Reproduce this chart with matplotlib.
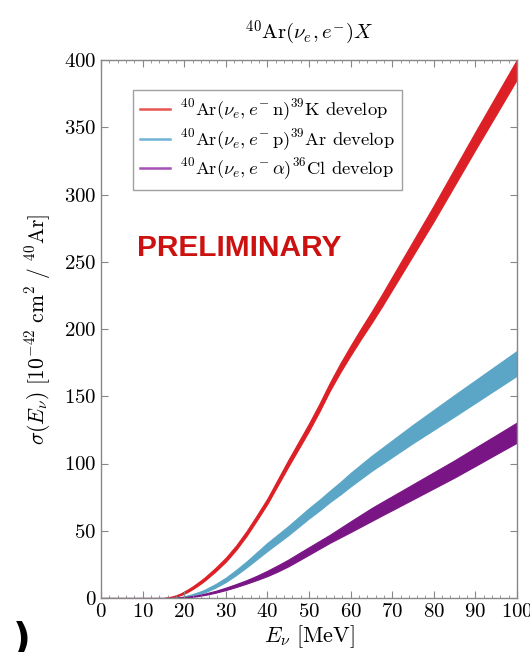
import matplotlib
matplotlib.use("Agg")
import matplotlib.pyplot as plt
from matplotlib.lines import Line2D
from matplotlib.ticker import MultipleLocator
import numpy as np

plt.rcParams['mathtext.fontset'] = 'cm'
plt.rcParams['font.family'] = 'serif'
plt.rcParams['font.serif'] = ['cmr10', 'DejaVu Serif']
plt.rcParams['axes.formatter.use_mathtext'] = True

# ---- data ----
energy = [0, 10, 15, 16, 17, 18, 19, 20, 21, 22, 23, 24, 25,
          27.5, 30, 32.5, 35, 37.5, 40, 42.5, 45, 47.5, 50, 52.5, 55, 57.5, 60, 62.5, 65, 67.5,
          70, 75, 80, 85, 90, 95, 100]

n_center = [0, 0, 0, 0.3, 0.8, 1.5, 2.6, 4, 5.7, 7.6, 9.7, 11.9, 14.3,
            21, 28.5, 37.5, 48, 59.8, 72, 86, 100, 113.5, 127, 141.5, 157, 171, 184, 196.5, 208.5, 221,
            234, 260, 286, 313, 340, 366.5, 393]
n_half = [0, 0, 0, 0.2, 0.3, 0.5, 0.6, 0.8, 0.9, 1.0, 1.1, 1.15, 1.2,
          1.35, 1.5, 1.65, 1.8, 1.9, 2.0, 2.25, 2.5, 2.65, 2.8, 2.9, 3.0, 3.3, 3.6, 3.9, 4.2, 4.5,
          4.8, 5.3, 5.8, 6.2, 6.6, 7.0, 7.3]

p_center = [0, 0, 0, 0, 0, 0.2, 0.5, 1, 1.6, 2.4, 3.3, 4.2, 5.3,
            9, 13.5, 19, 25, 31.5, 38, 44, 50, 56.5, 63, 69, 75.5, 81.5, 88, 94, 100, 105.5,
            111, 122, 132.5, 143, 153.5, 164, 174.5]
p_half = [0, 0, 0, 0, 0, 0.1, 0.2, 0.3, 0.4, 0.5, 0.65, 0.8, 1.0,
          1.3, 1.6, 1.9, 2.2, 2.6, 3.0, 3.2, 3.4, 3.6, 3.8, 4.0, 4.2, 4.6, 5.0, 5.3, 5.6, 5.9,
          6.2, 6.8, 7.4, 8.0, 8.4, 8.8, 9.2]

a_center = [0, 0, 0, 0, 0, 0.1, 0.3, 0.5, 0.8, 1.2, 1.6, 2.2, 2.8,
            4.6, 6.8, 9.3, 12, 15, 18.3, 22, 26, 30.5, 35, 39.5, 44, 48.5, 53, 57.5, 62, 66.3,
            70.5, 79, 87.5, 96, 105, 114, 123]
a_half = [0, 0, 0, 0, 0, 0.05, 0.1, 0.2, 0.25, 0.3, 0.35, 0.4, 0.5,
          0.7, 0.9, 1.1, 1.3, 1.6, 2.0, 2.3, 2.5, 2.7, 2.8, 2.9, 3.0, 3.5, 4.0, 4.4, 4.8, 5.0,
          5.2, 5.6, 6.0, 6.4, 6.8, 7.1, 7.5]

labels = [r'$^{40}\mathrm{Ar}(\nu_e, e^{-}\,\mathrm{n})^{39}\mathrm{K}$ develop',
          r'$^{40}\mathrm{Ar}(\nu_e, e^{-}\,\mathrm{p})^{39}\mathrm{Ar}$ develop',
          r'$^{40}\mathrm{Ar}(\nu_e, e^{-}\,\alpha)^{36}\mathrm{Cl}$ develop']
band_colors = ['#dc2026', '#5ba6c6', '#7a1585']
legend_colors = ['#e85550', '#6fb2d6', '#a550b5']

fig = plt.figure(figsize=(5.30, 6.52), dpi=100)
ax = fig.add_axes([101/530, 1 - 598/652, (517-101)/530, (598-60)/652])

E = np.array(energy)
for c, h, col in [(n_center, n_half, band_colors[0]),
                  (p_center, p_half, band_colors[1]),
                  (a_center, a_half, band_colors[2])]:
    c = np.array(c); h = np.array(h)
    ax.fill_between(E, c - h, c + h, color=col, lw=0.8, edgecolor=col)

ax.set_xlim(0, 100)
ax.set_ylim(0, 400)
ax.xaxis.set_major_locator(MultipleLocator(10))
ax.xaxis.set_minor_locator(MultipleLocator(2))
ax.yaxis.set_major_locator(MultipleLocator(50))
ax.tick_params(which='both', direction='in', top=True, right=True, color='#888888')
ax.tick_params(which='major', length=5, labelsize=15)
ax.tick_params(which='minor', length=2.5)
for s in ax.spines.values():
    s.set_color('#888888')
    s.set_linewidth(1.0)

ax.set_title(r'$^{40}\mathrm{Ar}(\nu_e, e^{-})X$', fontsize=15, pad=15)
ax.set_xlabel(r'$E_\nu\ [\mathrm{MeV}]$', fontsize=16, labelpad=2)
ax.set_ylabel(r'$\sigma(E_\nu)\ [10^{-42}\ \mathrm{cm}^2\ /\ ^{40}\mathrm{Ar}]$', fontsize=15.5, labelpad=8)

handles = [Line2D([0], [0], color=col, lw=1.8) for col in legend_colors]
leg = ax.legend(handles, labels, loc='upper left', bbox_to_anchor=(0.077, 0.944),
                borderaxespad=0, fontsize=13.4, frameon=True, fancybox=False, edgecolor='#888888',
                handlelength=1.6, borderpad=0.4, labelspacing=0.22, handletextpad=0.5)
leg.get_frame().set_linewidth(1.0)

ax.text(8.7, 260, 'PRELIMINARY', color='#cc1111', fontsize=21.5, fontweight='bold',
        family='Liberation Sans', va='center', ha='left')

fig.text(0.025, -0.01, ')', fontsize=28, fontweight='bold', family='DejaVu Sans',
         ha='left', va='bottom')

fig.savefig('out.png', dpi=100)
